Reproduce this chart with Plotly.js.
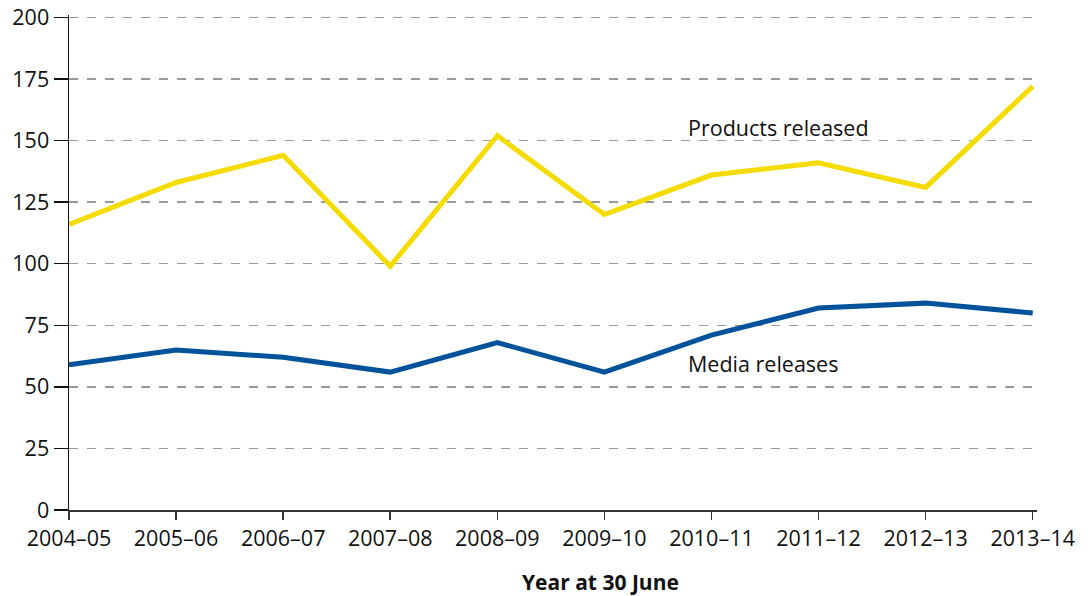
<!DOCTYPE html>
<html>
<head>
<meta charset="utf-8">
<script src="https://cdn.plot.ly/plotly-3.0.1.min.js"></script>
<style>html,body{margin:0;padding:0;background:#fff;}#chart{width:1090px;height:596px;}</style>
</head>
<body>
<div id="chart"></div>
<script>
const years = ["2004–05","2005–06","2006–07","2007–08","2008–09","2009–10","2010–11","2011–12","2012–13","2013–14"];
const productsReleased = [116,133,144,99,152,120,136,141,131,172];
const mediaReleases = [59,65,62,56,68,56,71,82,84,80];
const yTicks = [0,25,50,75,100,125,150,175,200];

const xIdx = years.map((_, i) => i);

const traces = [
  {x: xIdx, y: productsReleased, type: "scatter", mode: "lines", name: "Products released",
   line: {color: "#F5DC00", width: 5}, hoverinfo: "skip"},
  {x: xIdx, y: mediaReleases, type: "scatter", mode: "lines", name: "Media releases",
   line: {color: "#00529B", width: 5}, hoverinfo: "skip"}
];

const font = {family: "Open Sans, Lato, DejaVu Sans, sans-serif", size: 21.5, color: "#111"};

const layout = {
  width: 1090, height: 596,
  margin: {l: 69, r: 53, t: 15, b: 86},
  paper_bgcolor: "#fff", plot_bgcolor: "#fff",
  showlegend: false,
  font: font,
  xaxis: {
    range: [0, 9.04],
    tickvals: xIdx, ticktext: years,
    showgrid: false, zeroline: false,
    showline: true, linecolor: "#333", linewidth: 2,
    ticks: "outside", ticklen: 8, tickwidth: 1.5, tickcolor: "#333",
    tickfont: font
  },
  yaxis: {
    range: [0, 201],
    tickvals: yTicks,
    showgrid: true, gridcolor: "#999", griddash: "dash", gridwidth: 1.5,
    zeroline: false,
    showline: true, linecolor: "#111", linewidth: 1.5,
    ticks: "outside", ticklen: 14, tickwidth: 1.5, tickcolor: "#111",
    tickfont: font
  },
  annotations: [
    {x: 5.76, y: 155.5, xref: "x", yref: "y", text: "Products released", showarrow: false,
     xanchor: "left", yanchor: "middle", font: font},
    {x: 5.76, y: 59.5, xref: "x", yref: "y", text: "Media releases", showarrow: false,
     xanchor: "left", yanchor: "middle", font: font},
    {x: 0.5, y: 0, xref: "paper", yref: "paper", text: "<b>Year at 30 June</b>", showarrow: false,
     xanchor: "center", yanchor: "middle", font: {family: font.family, size: 21, color: "#111"}}
  ]
};
// place the axis title (centred near x=600px, y=582px) in paper coordinates
const pw = 1090 - 69 - 53, ph = 596 - 15 - 86;
layout.annotations[2].x = (600 - 69) / pw;
layout.annotations[2].y = (596 - 86 - 582) / ph;

Plotly.newPlot("chart", traces, layout, {displayModeBar: false, staticPlot: true});
</script>
</body>
</html>
